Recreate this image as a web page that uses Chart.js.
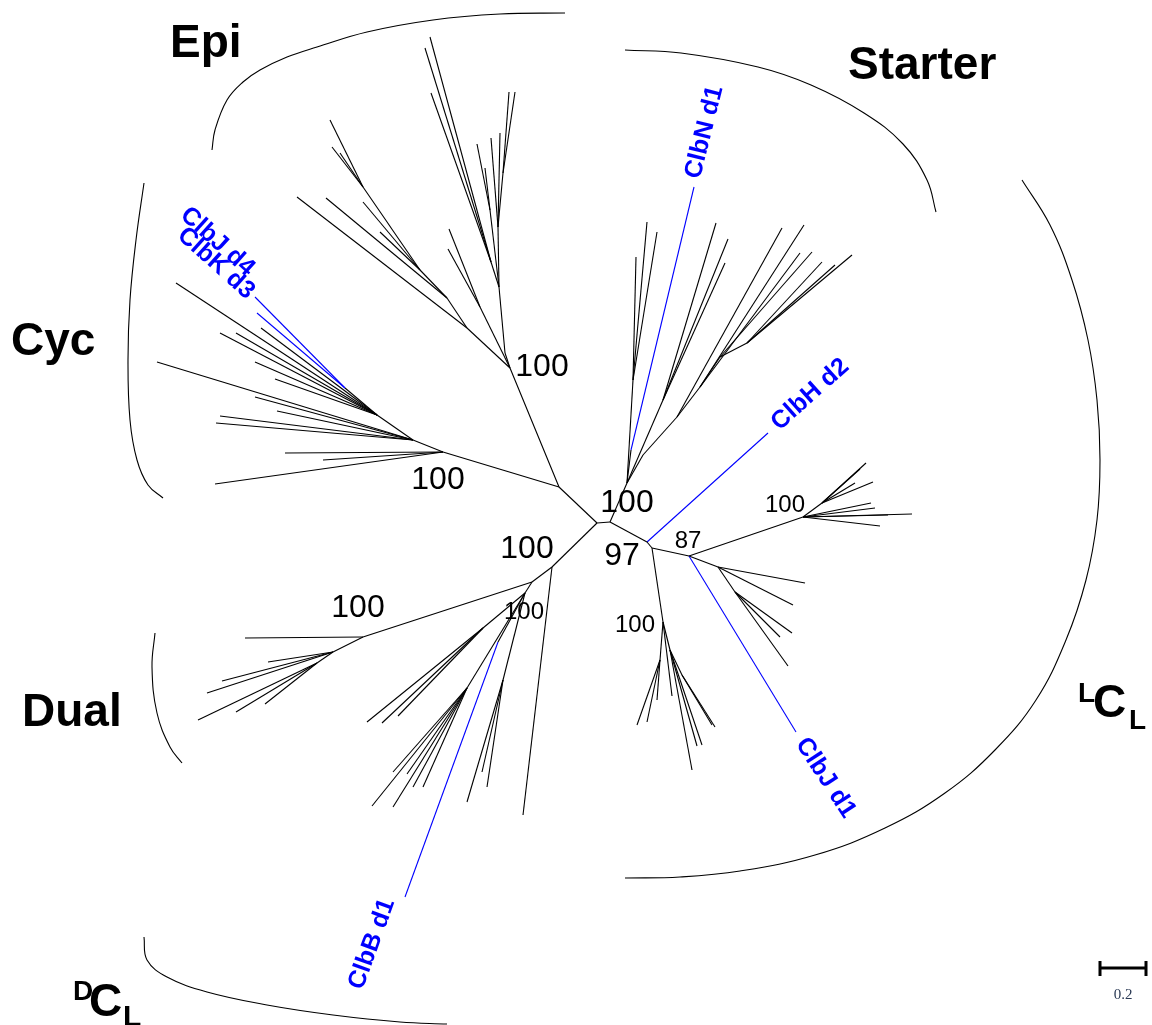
<!DOCTYPE html>
<html>
<head>
<meta charset="utf-8">
<script src="https://cdn.jsdelivr.net/npm/chart.js@4.4.1/dist/chart.umd.min.js"></script>
<style>
html, body { margin: 0; padding: 0; background: #fff; }
canvas { display: block; }
</style>
</head>
<body>
<canvas id="tree" width="1152" height="1025"></canvas>
<script>
/* tree nodes: [name, parent, x, y] in plot units (unrooted layout) */
var treeNodes = [
    ['root', null, 597, 523],
    ['c1', 'root', 559, 487],
    ['epi', 'c1', 510, 368],
    ['cyc', 'c1', 443, 452],
    ['c2', 'root', 552, 567],
    ['c3', 'root', 610, 522],
    ['st', 'c3', 627, 483],
    ['c4', 'c3', 647, 542],
    ['n97', 'c4', 652, 548],
    ['n87', 'n97', 689, 556],
    ['ur', 'n87', 803, 517],
    ['lo', 'n97', 663, 622],
    ['dn', 'c2', 532, 582],
    ['dual', 'dn', 363, 637],
    ['clbB', 'dn', 525, 593],
    // Epi
    ['e1', 'epi', 505, 353],
    ['e2', 'e1', 499, 287],
    ['e3', 'e2', 498, 227],
    ['e4', 'e3', 503, 173],
    ['', 'e4', 509, 92],
    ['', 'e4', 515, 92],
    ['', 'e3', 500, 133],
    ['', 'e3', 491, 138],
    ['e5', 'e2', 490, 210],
    ['', 'e5', 477, 144],
    ['', 'e5', 485, 168],
    ['e6', 'e2', 491, 262],
    ['', 'e6', 430, 37],
    ['', 'e6', 425, 48],
    ['', 'e6', 431, 93],
    ['e7', 'epi', 480, 307],
    ['', 'e7', 449, 229],
    ['', 'e7', 448, 249],
    ['e8', 'epi', 467, 328],
    ['', 'e8', 297, 197],
    ['e9', 'e8', 447, 298],
    ['', 'e9', 326, 198],
    ['e10', 'e9', 420, 270],
    ['', 'e10', 363, 202],
    ['', 'e10', 380, 232],
    ['e11', 'e10', 363, 187],
    ['', 'e11', 330, 120],
    ['', 'e11', 332, 147],
    ['', 'e11', 340, 153],
    // Cyc
    ['y1', 'cyc', 413, 440],
    ['y2', 'y1', 377, 415],
    ['yb', 'y2', 345, 388],
    ['ClbJ d4', 'yb', 255, 297],
    ['ClbK d3', 'yb', 257, 313],
    ['', 'y2', 176, 283],
    ['', 'y2', 261, 328],
    ['', 'y2', 220, 333],
    ['', 'y2', 236, 333],
    ['', 'y2', 255, 362],
    ['', 'y2', 275, 379],
    ['', 'y1', 157, 362],
    ['', 'y1', 255, 397],
    ['', 'y1', 277, 411],
    ['', 'y1', 220, 416],
    ['', 'y1', 216, 423],
    ['', 'cyc', 285, 453],
    ['', 'cyc', 323, 460],
    ['', 'cyc', 215, 484],
    // Starter
    ['s1', 'st', 633, 380],
    ['', 's1', 647, 222],
    ['', 's1', 657, 232],
    ['', 's1', 636, 257],
    ['sN', 'st', 631, 450],
    ['ClbN d1', 'sN', 694, 187],
    ['s2', 'st', 663, 400],
    ['', 's2', 716, 223],
    ['', 's2', 728, 239],
    ['', 's2', 725, 263],
    ['s3', 'st', 643, 455],
    ['s4', 's3', 677, 417],
    ['', 's4', 782, 228],
    ['s5', 's4', 700, 387],
    ['', 's5', 804, 225],
    ['', 's5', 800, 253],
    ['s6', 's5', 720, 357],
    ['', 's6', 812, 252],
    ['s7', 's6', 747, 343],
    ['', 's7', 822, 262],
    ['', 's7', 835, 265],
    ['', 's7', 852, 255],
    ['ClbH d2', 'c4', 768, 433],
    // upper right (100)
    ['u1', 'ur', 822, 503],
    ['', 'u1', 866, 463],
    ['', 'u1', 860, 469],
    ['', 'u1', 873, 482],
    ['', 'u1', 855, 483],
    ['', 'ur', 871, 503],
    ['', 'ur', 875, 508],
    ['', 'ur', 912, 514],
    ['', 'ur', 888, 515],
    ['', 'ur', 880, 526],
    // 87 fan
    ['ClbJ d1', 'n87', 796, 732],
    ['f1', 'n87', 718, 567],
    ['', 'f1', 805, 583],
    ['', 'f1', 793, 605],
    ['f2', 'f1', 735, 592],
    ['', 'f2', 792, 633],
    ['', 'f2', 780, 637],
    ['', 'f2', 788, 666],
    // lower (100)
    ['l1', 'lo', 660, 660],
    ['', 'l1', 637, 725],
    ['', 'l1', 647, 722],
    ['', 'l1', 657, 700],
    ['', 'lo', 672, 696],
    ['l2', 'lo', 670, 650],
    ['', 'l2', 692, 770],
    ['', 'l2', 697, 746],
    ['', 'l2', 702, 745],
    ['l3', 'l2', 682, 675],
    ['', 'l3', 715, 727],
    ['', 'l3', 712, 725],
    // Dual
    ['', 'dual', 245, 638],
    ['d1', 'dual', 333, 652],
    ['', 'd1', 268, 662],
    ['', 'd1', 222, 681],
    ['', 'd1', 207, 693],
    ['d2', 'd1', 317, 663],
    ['', 'd2', 198, 720],
    ['', 'd2', 236, 712],
    ['', 'd2', 265, 704],
    // DCL side
    ['', 'c2', 523, 815],
    ['b1', 'clbB', 483, 628],
    ['', 'b1', 367, 722],
    ['', 'b1', 382, 723],
    ['', 'b1', 398, 716],
    ['b2', 'clbB', 467, 688],
    ['', 'b2', 372, 806],
    ['', 'b2', 393, 807],
    ['', 'b2', 393, 772],
    ['', 'b2', 407, 774],
    ['', 'b2', 413, 787],
    ['', 'b2', 423, 787],
    ['b3', 'clbB', 503, 680],
    ['', 'b3', 467, 802],
    ['', 'b3', 482, 772],
    ['', 'b3', 487, 787],
    ['bb', 'clbB', 498, 642],
    ['ClbB d1', 'bb', 405, 897]
];

var highlighted = ['ClbN d1', 'ClbH d2', 'ClbJ d1', 'ClbB d1', 'ClbJ d4', 'ClbK d3'];

/* bootstrap support */
var supportNodes = ['epi', 'cyc', 'st', 'n97', 'dn', 'dual', 'clbB', 'n87', 'ur', 'lo'];
var supportValues = ['100', '100', '100', '97', '100', '100', '100', '87', '100', '100'];

/* clade brackets, points */
var epiArc = [[212,150],[215,130],[227,100],[243,82],[260,70],[287,57],[317,47],[367,32],[433,20],[500,14],[565,13]];
var starterArc = [[625,50],[681,53],[758,67],[811,85],[864,113],[903,144],[927,180],[936,212]];
var lclArc = [[1022,180],[1050,225],[1072,280],[1088,340],[1097,400],[1100,460],[1097,520],[1086,580],[1066,640],[1036,700],[995,750],[945,793],[885,828],[815,855],[740,871],[680,877],[625,878]];
var cycArc = [[144,183],[136,240],[130,300],[128,360],[130,420],[137,460],[148,485],[163,498]];
var dualArc = [[155,633],[152,667],[157,713],[170,747],[182,763]];
var dclArc = [[144,937],[147,960],[167,977],[207,992],[267,1005],[333,1015],[400,1022],[447,1024]];

var scaleBar = [0, 0.2];   // tree distance
var scalePx = 230;         // plot units per 1.0 distance

var BLUE = '#0000ff';
var FONT = '"Liberation Sans", Arial, sans-serif';

var byName = {};
treeNodes.forEach(function(n) { if (n[0]) byName[n[0]] = n; });

var datasets = [];
treeNodes.forEach(function(n) {
    if (!n[1]) return;
    var p = byName[n[1]];
    datasets.push({
        data: [{x: p[2], y: p[3]}, {x: n[2], y: n[3]}],
        showLine: true,
        borderColor: highlighted.indexOf(n[0]) >= 0 ? BLUE : '#000',
        borderWidth: 1.1,
        pointRadius: 0,
        tension: 0
    });
});

[epiArc, starterArc, lclArc, cycArc, dualArc, dclArc].forEach(function(arc) {
    datasets.push({
        data: arc.map(function(a) { return {x: a[0], y: a[1]}; }),
        showLine: true,
        borderColor: '#000',
        borderWidth: 1.1,
        pointRadius: 0,
        tension: 0.4
    });
});

// scale bar
var sbX = 1100, sbY = 968;
var sbEnd = sbX + (scaleBar[1] - scaleBar[0]) * scalePx;
datasets.push({ data: [{x: sbX, y: sbY}, {x: sbEnd, y: sbY}], showLine: true, borderColor: '#000', borderWidth: 3, pointRadius: 0 });
datasets.push({ data: [{x: sbX, y: sbY - 7}, {x: sbX, y: sbY + 8}], showLine: true, borderColor: '#000', borderWidth: 3, pointRadius: 0 });
datasets.push({ data: [{x: sbEnd, y: sbY - 7}, {x: sbEnd, y: sbY + 8}], showLine: true, borderColor: '#000', borderWidth: 3, pointRadius: 0 });

/* label placement */
var supportLayout = {
    epi: [542, 367, 32], cyc: [438, 480, 32], st: [627, 503, 32], n97: [622, 556, 32],
    dn: [527, 549, 32], dual: [358, 608, 32], clbB: [524, 612, 24], n87: [688, 541, 24],
    ur: [785, 505, 24], lo: [635, 625, 24]
};
// [text, x, y, align, rotation]
var leafLabels = [
    ['ClbN d1', 693, 178, 'left', -76],
    ['ClbH d2', 775, 426, 'left', -41.8],
    ['ClbJ d1', 801, 740, 'left', 57],
    ['ClbB d1', 372, 944, 'center', -70],
    ['ClbJ d4', 251, 272, 'right', 42],
    ['ClbK d3', 251, 295, 'right', 42]
];
var cladeLabels = [
    ['Epi', 170, 57], ['Starter', 848, 79], ['Cyc', 11, 355], ['Dual', 22, 726]
];

var labelPlugin = {
    id: 'treeLabels',
    afterDatasetsDraw: function(chart) {
        var ctx = chart.ctx, xs = chart.scales.x, ys = chart.scales.y;
        function put(text, x, y, font, color, align, base, rot) {
            ctx.save();
            ctx.translate(xs.getPixelForValue(x), ys.getPixelForValue(y));
            if (rot) ctx.rotate(rot * Math.PI / 180);
            ctx.font = font;
            ctx.fillStyle = color;
            ctx.textAlign = align;
            ctx.textBaseline = base;
            ctx.fillText(text, 0, 0);
            ctx.restore();
        }
        supportNodes.forEach(function(id, i) {
            var l = supportLayout[id];
            put(supportValues[i], l[0], l[1], l[2] + 'px ' + FONT, '#000', 'center', 'middle', 0);
        });
        leafLabels.forEach(function(l) {
            put(l[0], l[1], l[2], 'bold 25px ' + FONT, BLUE, l[3], 'middle', l[4]);
        });
        cladeLabels.forEach(function(l) {
            put(l[0], l[1], l[2], 'bold 46px ' + FONT, '#000', 'left', 'alphabetic', 0);
        });
        // LCL
        put('L', 1078, 702, 'bold 28px ' + FONT, '#000', 'left', 'alphabetic', 0);
        put('C', 1093, 717, 'bold 46px ' + FONT, '#000', 'left', 'alphabetic', 0);
        put('L', 1129, 729, 'bold 28px ' + FONT, '#000', 'left', 'alphabetic', 0);
        // DCL
        put('D', 73, 1000, 'bold 28px ' + FONT, '#000', 'left', 'alphabetic', 0);
        put('C', 89, 1016, 'bold 46px ' + FONT, '#000', 'left', 'alphabetic', 0);
        put('L', 123, 1026, 'bold 30px ' + FONT, '#000', 'left', 'alphabetic', 0);
        // scale bar text
        put(String(scaleBar[1]), (sbX + sbEnd) / 2, 995, '15px "Liberation Serif", "Times New Roman", serif', '#2b3a55', 'center', 'middle', 0);
    }
};

var ctx = document.getElementById('tree').getContext('2d');
var treeChart = new Chart(ctx, {
    type: 'scatter',
    data: { datasets: datasets },
    options: {
        responsive: false,
        animation: false,
        layout: { padding: 0 },
        plugins: { legend: { display: false }, tooltip: { enabled: false } },
        scales: {
            x: { type: 'linear', min: 0, max: 1152, display: false },
            y: { type: 'linear', min: 0, max: 1025, reverse: true, display: false }
        }
    },
    plugins: [labelPlugin]
});
</script>
</body>
</html>
